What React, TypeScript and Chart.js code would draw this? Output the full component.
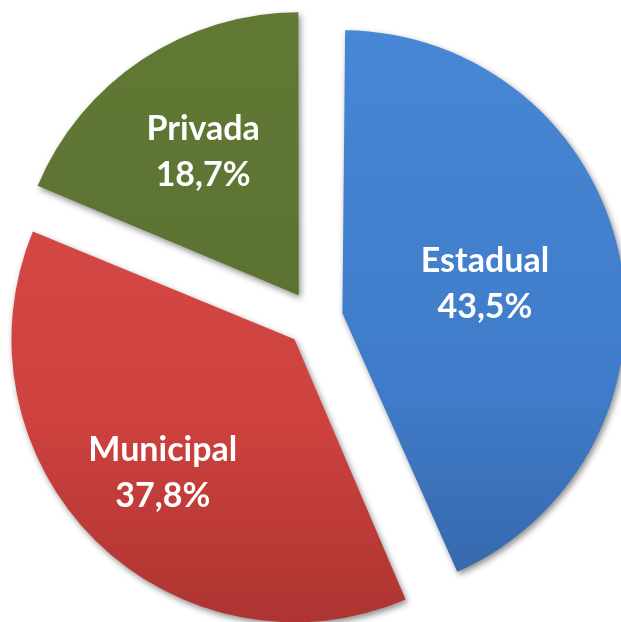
import React, { useEffect, useRef } from "react";
import { Chart, registerables } from "chart.js";

Chart.register(...registerables);

const categories = ["Estadual", "Municipal", "Privada"];
const shares = [43.5, 37.8, 18.7];

const topColors = ["#4888d6", "#da504c", "#637a36"];
const midColors = ["#3f7bc8", "#cd413e", "#5a7030"];
const bottomColors = ["#3464a6", "#aa3330", "#4d6227"];
const labelRadius = [0.615, 0.763, 0.71];
const EXPLODE = 28.5;
const RADIUS = 283;

const fmt = (v: number) => v.toFixed(1).replace(".", ",") + "%";

const piePlugin = {
  id: "piePlugin",
  afterDatasetUpdate(chart: any) {
    // Chart.js grows exploded arcs by offset*(1-sin(circumference)); keep one radius for all slices
    const meta = chart.getDatasetMeta(0);
    meta.data.forEach((arc: any) => {
      const circ = arc.circumference || 0;
      const fix = 1 - Math.sin(Math.min(Math.PI, circ));
      arc.outerRadius = RADIUS - EXPLODE * fix;
    });
  },
  beforeDatasetsDraw(chart: any) {
    const c = chart.ctx;
    c.save();
    c.shadowColor = "rgba(0,0,0,0.45)";
    c.shadowBlur = 6;
    c.shadowOffsetX = 2;
    c.shadowOffsetY = 3;
  },
  afterDatasetsDraw(chart: any) {
    const c = chart.ctx;
    c.restore();
    const meta = chart.getDatasetMeta(0);
    c.save();
    c.fillStyle = "#ffffff";
    c.textAlign = "center";
    c.textBaseline = "middle";
    c.font = "bold 34px Lato";
    meta.data.forEach((arc: any, i: number) => {
      const p = arc.getProps(["x", "y", "startAngle", "endAngle"], true);
      const mid = (p.startAngle + p.endAngle) / 2;
      const d = labelRadius[i] * RADIUS;
      const lx = p.x + Math.cos(mid) * d;
      const ly = p.y + Math.sin(mid) * d;
      c.fillText(categories[i], lx, ly - 23);
      c.fillText(fmt(shares[i]), lx, ly + 23);
    });
    c.restore();
  },
};

export default function App() {
  const ref = useRef<HTMLCanvasElement | null>(null);
  useEffect(() => {
    if (!ref.current) return;
    const chart = new Chart(ref.current, {
      type: "pie",
      data: {
        labels: categories,
        datasets: [
          {
            data: shares,
            backgroundColor: (ctx: any) => {
              const i = ctx.dataIndex;
              const g = ctx.chart.ctx.createLinearGradient(0, 0, 0, 622);
              g.addColorStop(0, topColors[i]);
              g.addColorStop(0.65, midColors[i]);
              g.addColorStop(1, bottomColors[i]);
              return g;
            },
            borderWidth: 0,
            offset: EXPLODE * 4,
            hoverOffset: 0,
            clip: false,
          } as any,
        ],
      },
      options: {
        animation: false,
        responsive: true,
        maintainAspectRatio: false,
        radius: RADIUS,
        layout: { padding: { left: 8, top: 16, right: 0, bottom: 0 } },
        plugins: {
          legend: { display: false },
          tooltip: { enabled: false },
        },
        events: [],
      } as any,
      plugins: [piePlugin],
    });
    return () => chart.destroy();
  }, []);
  return (
    <div
      style={{
        position: "fixed",
        left: 0,
        top: 0,
        width: 621,
        height: 622,
        overflow: "hidden",
        background: "#ffffff",
      }}
    >
      <canvas ref={ref} />
    </div>
  );
}
